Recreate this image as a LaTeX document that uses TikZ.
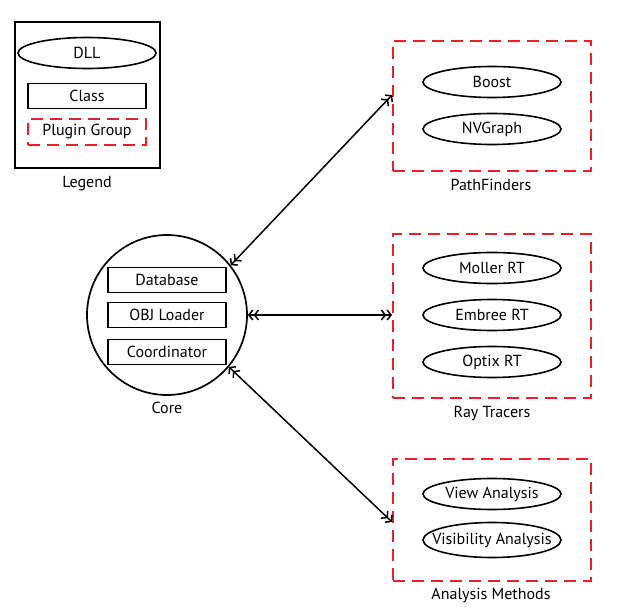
\documentclass[tikz,border=0pt]{standalone}
\usepackage{fontspec}
\setmainfont{PT Sans}
\usetikzlibrary{arrows.meta,shapes.geometric}
\definecolor{plugred}{RGB}{232,32,44}
\begin{document}
\begin{tikzpicture}[x=1pt,y=-1pt]
      \tikzstyle{dll}=[draw,ellipse,line width=1.6pt,minimum width=138pt,minimum height=31pt,inner sep=0pt,font=\fontsize{16}{19}\selectfont]
      \tikzstyle{cls}=[draw,rectangle,line width=1.9pt,minimum width=118pt,minimum height=25pt,inner sep=0pt,font=\fontsize{16}{19}\selectfont]
      \tikzstyle{group}=[draw=plugred,line width=1.9pt,dash pattern=on 12pt off 7pt,rectangle,minimum width=198pt,inner sep=0pt]
      \tikzstyle{caption}=[font=\fontsize{16}{19}\selectfont]
      \tikzstyle{edge}=[draw,line width=1.5pt,{Straight Barb[length=4pt,width=10pt]Straight Barb[length=4pt,width=10pt]}-{Straight Barb[length=4pt,width=10pt]Straight Barb[length=4pt,width=10pt]}]
      \useasboundingbox (0,0) rectangle (619,615);
      % legend
      \path[draw,line width=2pt] (15,22) rectangle (160,168);
      \node[caption] (legendlbl) at (87,184) {Legend};
      \node[dll] (dllkey) at (87,53) {DLL};
      \node[cls] (classkey) at (87,96) {Class};
      \node[cls,draw=plugred,dash pattern=on 12pt off 7pt,minimum height=26pt] (groupkey) at (87,132) {Plugin Group};
      % core
      \node[draw,circle,line width=1.7pt,minimum size=160pt] (core) at (167,315) {};
      \node[caption] (corelbl) at (167,408) {Core};
      \node[cls] (db) at (167,280) {Database};
      \node[cls] (obj) at (167,315) {OBJ Loader};
      \node[cls] (coord) at (167,352) {Coordinator};
      % plugin groups
      \node[group,minimum height=130pt] (pf) at (492,106) {};
      \node[caption] (pflbl) at (491,185) {PathFinders};
      \node[dll] (boost) at (492,82) {Boost};
      \node[dll] (nvg) at (492,129) {NVGraph};
      \node[group,minimum height=164pt] (rt) at (492,316) {};
      \node[caption] (rtlbl) at (492,413) {Ray Tracers};
      \node[dll] (moller) at (492,268) {Moller RT};
      \node[dll] (embree) at (492,315) {Embree RT};
      \node[dll] (optix) at (492,362) {Optix RT};
      \node[group,minimum height=122pt] (am) at (492,520) {};
      \node[caption] (amlbl) at (491,595) {Analysis Methods};
      \node[dll] (view) at (492,494) {View Analysis};
      \node[dll,inner xsep=-14pt,minimum height=35pt] (vis) at (492,540) {Visibility Analysis};
      % links
      \coordinate (pfin) at ([yshift=11pt]pf.west);
      \coordinate (amin) at ([yshift=-2pt]am.west);
      \path[edge] (core.38) -- (pfin);
      \path[edge] (core.east) -- (core.east -| rt.west);
      \path[edge] (core.-40) -- (amin);
    \end{tikzpicture}
\end{document}
